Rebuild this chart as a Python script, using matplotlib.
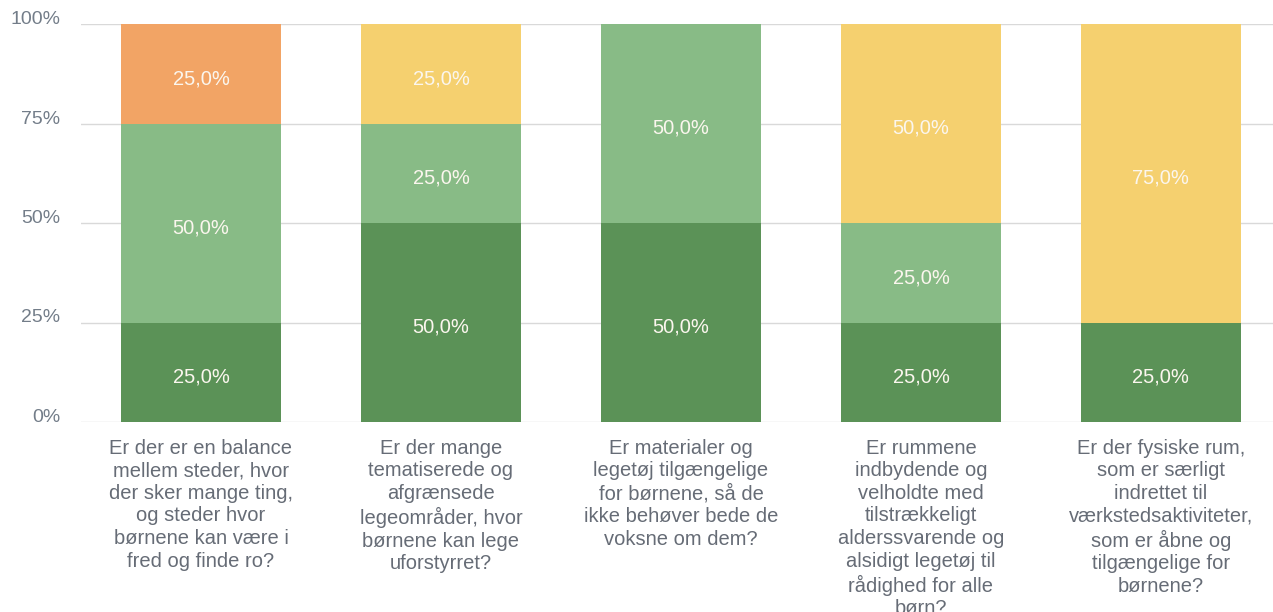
import matplotlib.pyplot as plt
import numpy as np

plt.rcParams["font.family"] = ["Liberation Sans", "DejaVu Sans"]

categories = [
    "Er der er en balance\nmellem steder, hvor\nder sker mange ting,\nog steder hvor\nbørnene kan være i\nfred og finde ro?",
    "Er der mange\ntematiserede og\nafgrænsede\nlegeområder, hvor\nbørnene kan lege\nuforstyrret?",
    "Er materialer og\nlegetøj tilgængelige\nfor børnene, så de\nikke behøver bede de\nvoksne om dem?",
    "Er rummene\nindbydende og\nvelholdte med\ntilstrækkeligt\nalderssvarende og\nalsidigt legetøj til\nrådighed for alle\nbørn?",
    "Er der fysiske rum,\nsom er særligt\nindrettet til\nværkstedsaktiviteter,\nsom er åbne og\ntilgængelige for\nbørnene?",
]

# percentages per series, bottom to top
dark_green = [25, 50, 50, 25, 25]
light_green = [50, 25, 50, 25, 0]
yellow = [0, 25, 0, 50, 75]
orange = [25, 0, 0, 0, 0]

series = [dark_green, light_green, yellow, orange]
colors = ["#5b9257", "#88bb86", "#f5d06f", "#f2a465"]

fig = plt.figure(figsize=(12.73, 6.12), dpi=100)
ax = fig.add_axes([81 / 1273, 1 - 422 / 612, 1192 / 1273, 398 / 612])

x = np.arange(len(categories))
bottom = np.zeros(len(categories))
for vals, col in zip(series, colors):
    vals = np.array(vals, dtype=float)
    ax.bar(x, vals, 0.667, bottom=bottom, color=col, zorder=2)
    for xi, v, b in zip(x, vals, bottom):
        if v > 0:
            ax.annotate(f"{v:.1f}%".replace(".", ","), (xi, b + v / 2),
                        xytext=(0, -2), textcoords="offset points",
                        ha="center", va="center_baseline", color="#fbf6ee",
                        fontsize=14.5, zorder=3)
    bottom += vals

ax.set_xlim(-0.5, 4.467)
ax.set_ylim(0, 100)
ax.set_yticks([0, 25, 50, 75, 100])
ax.set_yticklabels(["0%", "25%", "50%", "75%", "100%"], va="baseline")
ax.yaxis.grid(True, color="#d9d9d9", linewidth=1, zorder=0)
ax.tick_params(axis="y", length=0, pad=15, labelsize=14, labelcolor="#737d89")
ax.tick_params(axis="x", length=0, pad=12, labelsize=14.5, labelcolor="#666c76")
ax.set_xticks(x)
ax.set_xticklabels(categories, linespacing=1.24, va="top")
for s in ax.spines.values():
    s.set_visible(False)

fig.savefig("out.png", dpi=100)
